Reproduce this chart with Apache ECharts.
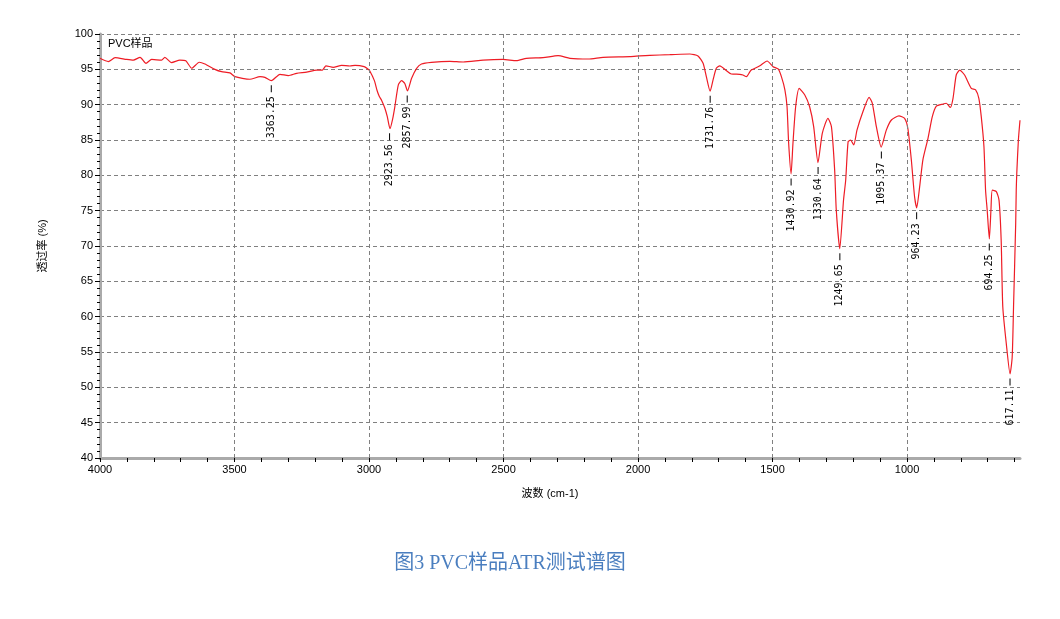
<!DOCTYPE html>
<html>
<head>
<meta charset="utf-8">
<script src="https://cdn.jsdelivr.net/npm/echarts@6/dist/echarts.min.js"></script>
<style>
html,body{margin:0;padding:0;background:#fff;}
#c{width:1060px;height:619px;}
</style>
</head>
<body>
<div id="c"></div>
<script>
// ---- data ----
const wavenumbers = [4000,3969,3944,3901,3876,3851,3829,3808,3771,3759,3734,3703,3681,3659,3631,3610,3573,3548,3517,3498,3443,3405,3387,3363,3331,3300,3269,3232,3195,3173,3160,3133,3102,3071,3052,3018,3003,2997,2980,2970,2962,2953,2941,2932,2922,2912,2904,2891,2879,2867,2857,2842,2823,2805,2768,2699,2650,2576,2502,2452,2415,2353,2297,2253,2185,2130,2030,1993,1956,1882,1807,1777,1758,1746,1732,1721,1709,1696,1671,1653,1622,1610,1597,1585,1579,1547,1520,1498,1479,1467,1454,1446,1440,1431,1424,1414,1401,1380,1362,1347,1331,1315,1294,1281,1269,1263,1250,1236,1228,1219,1210,1198,1186,1164,1141,1129,1114,1096,1077,1058,1030,1009,997,984,972,964,953,941,922,906,891,866,854,839,829,817,804,786,761,745,733,724,714,708,702,694,688,683,668,658,650,644,631,617,609,604,596,594,592,586,580];
const transmittance = [96.56,96.1,96.65,96.4,96.3,96.7,95.85,96.4,96.3,96.7,95.95,96.3,96.2,95.15,96.0,95.75,95.0,94.67,94.5,93.96,93.6,93.96,93.87,93.4,94.3,94.1,94.44,94.6,94.9,94.9,95.5,95.28,95.57,95.47,95.57,95.38,95.0,94.76,93.4,92.0,91.2,90.6,89.5,88.3,86.6,88.0,89.7,92.8,93.4,93.0,91.95,93.7,95.14,95.75,95.99,96.13,96.04,96.3,96.4,96.22,96.56,96.65,96.93,96.56,96.46,96.7,96.79,96.9,96.98,97.07,97.17,96.9,95.85,93.96,91.9,93.5,95.14,95.5,94.8,94.34,94.3,94.2,93.96,94.6,94.9,95.5,96.18,95.38,95.05,93.96,92.1,89.7,84.53,80.2,84.53,89.7,92.3,91.37,89.7,86.9,81.8,85.95,88.07,86.9,80.75,75.1,69.6,76.5,79.3,84.76,85.0,84.3,86.4,89.0,91.04,90.19,86.9,84.0,86.4,87.83,88.4,88.07,86.66,82.2,77.0,75.4,78.4,82.2,85.24,88.3,89.8,90.1,90.2,89.6,90.9,94.2,94.9,94.2,92.3,92.1,90.9,88.3,84.05,77.9,75.1,71.0,75.1,77.9,77.7,76.5,70.85,61.4,56.2,51.9,54.3,61.4,73.2,77.9,80.3,85.0,87.8];
const peakLabels = ['3363.25','2923.56','2857.99','1731.76','1430.92','1330.64','1249.65','1095.37','964.23','694.25','617.11'];
const peakWavenumbers = [3363.25,2923.56,2857.99,1731.76,1430.92,1330.64,1249.65,1095.37,964.23,694.25,617.11];
const peakTransmittance = [93.4,86.6,91.95,91.9,80.2,81.8,69.6,84.0,75.4,71.0,51.9];
const xLabelValues = [4000,3500,3000,2500,2000,1500,1000];
const xTickValues = [];
for (let v = 4000; v >= 600; v -= 100) xTickValues.push(v);
const xGridValues = [3500,3000,2500,2000,1500,1000];

const chart = echarts.init(document.getElementById('c'), null, {renderer:'canvas'});
const axisFont = 'Liberation Sans';
const option = {
  animation: false,
  backgroundColor: '#fff',
  grid: {left: 100, right: 40, top: 34, bottom: 161, containLabel: false},
  title: {
    text: '图3 PVC样品ATR测试谱图',
    left: 505, top: 549, textAlign: 'center',
    textStyle: {fontFamily: '"Liberation Serif", "Noto Sans CJK SC", serif', fontSize: 20, fontWeight: 'normal', color: '#4a7ebf'}
  },
  graphic: [{
    type: 'text', left: 108, top: 38,
    style: {text: 'PVC样品', fontFamily: '"Liberation Sans", "Noto Sans CJK SC"', fontSize: 11, fill: '#000'}
  }],
  xAxis: {
    type: 'value', inverse: true, min: 580, max: 4000,
    name: '波数 (cm-1)', nameLocation: 'middle', nameGap: 30,
    nameTextStyle: {fontFamily: '"Liberation Sans", "Noto Sans CJK SC"', fontSize: 11, color: '#000', padding: [0, 20, 0, 0]},
    axisLine: {show: true, onZero: false, lineStyle: {color: '#aaaaaa', width: 3}},
    axisTick: {show: true, customValues: xTickValues, length: 4, lineStyle: {color: '#000', width: 1}},
    axisLabel: {show: true, customValues: xLabelValues, margin: 6, fontFamily: axisFont, fontSize: 11, color: '#000',
      formatter: v => String(Math.round(v))},
    splitLine: {show: false}
  },
  yAxis: {
    type: 'value', min: 40, max: 100, interval: 5,
    name: '透过率 (%)', nameLocation: 'middle', nameGap: 52,
    nameTextStyle: {fontFamily: '"Liberation Sans", "Noto Sans CJK SC"', fontSize: 11, color: '#000'},
    axisLine: {show: true, lineStyle: {color: '#aaaaaa', width: 3}},
    axisTick: {show: true, length: 5, lineStyle: {color: '#000', width: 1}},
    minorTick: {show: true, splitNumber: 5, length: 3, lineStyle: {color: '#000', width: 1}},
    axisLabel: {margin: 7, fontFamily: axisFont, fontSize: 11, color: '#000', formatter: v => String(v)},
    splitLine: {show: true, lineStyle: {color: '#808080', type: [4, 3], width: 1}}
  },
  series: [{
    type: 'line',
    data: wavenumbers.map((w, i) => [w, transmittance[i]]),
    showSymbol: false,
    smooth: 0.2,
    lineStyle: {color: '#ee1c25', width: 1.2},
    silent: true,
    markLine: {
      silent: true, symbol: 'none',
      label: {show: false},
      lineStyle: {color: '#808080', type: [4, 3], width: 1},
      data: xGridValues.map(v => ({xAxis: v}))
    },
    markPoint: {
      silent: true,
      symbol: 'rect',
      symbolSize: [1, 7],
      symbolOffset: [0, 8],
      itemStyle: {color: '#000'},
      label: {
        show: true, position: 'bottom', distance: 4, rotate: 90,
        align: 'right', verticalAlign: 'middle',
        fontFamily: 'DejaVu Sans Mono', fontSize: 10, color: '#000',
        formatter: p => p.name
      },
      data: peakLabels.map((t, i) => ({name: t, coord: [peakWavenumbers[i], peakTransmittance[i]]}))
    }
  }]
};
chart.setOption(option);
</script>
</body>
</html>
